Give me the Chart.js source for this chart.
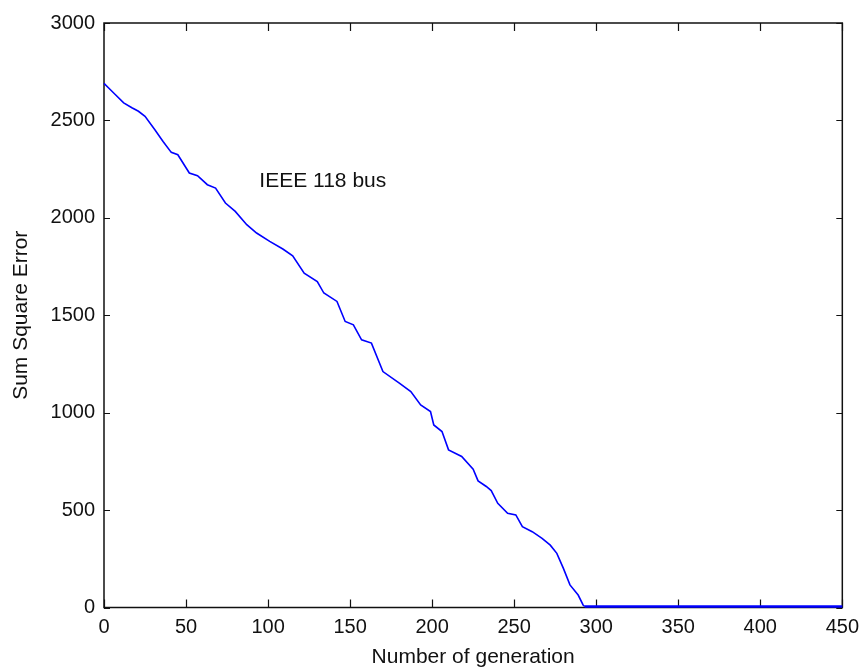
<!DOCTYPE html>
<html>
<head>
<meta charset="utf-8">
<script src="https://cdn.jsdelivr.net/npm/chart.js@4.4.1/dist/chart.umd.min.js"></script>
<style>
  html, body { margin: 0; padding: 0; background: #fff; }
  #wrap { width: 867px; height: 670px; position: relative; }
</style>
</head>
<body>
<div id="wrap"><canvas id="sse-chart"></canvas></div>
<script>
/* sum square error vs generation, IEEE 118 bus */
const generations = [0, 3, 7, 12, 17, 21, 25, 31, 36, 41, 45, 52, 57, 63, 68, 74, 80, 87, 93, 101,
  109, 115, 122, 130, 134, 142, 147, 152, 157, 163, 170, 180, 187, 193, 199, 201, 206, 210, 218, 225,
  228, 233, 236, 240, 246, 251, 255, 261, 267, 272, 276, 280, 284, 289, 292, 293, 450];
const sseValues = [2690, 2665, 2632, 2590, 2565, 2547, 2521, 2452, 2392, 2336, 2324, 2230, 2216, 2170, 2153, 2076, 2033, 1965, 1922, 1879,
  1840, 1805, 1716, 1673, 1614, 1571, 1468, 1451, 1374, 1357, 1211, 1152, 1108, 1040, 1006, 937, 903, 809, 775, 710,
  650, 621, 600, 535, 484, 475, 415, 389, 355, 320, 278, 201, 116, 64, 13, 5, 5];
const xTickStep = 50, xMax = 450;
const yTickStep = 500, yMax = 3000;
const noteText = 'IEEE 118 bus';
const notePos = { x: 94.7, y: 2187 };

const FONT = 'Liberation Sans, Arial, sans-serif';
const INK = '#111';

// box + inward ticks on all four sides, like the matlab axes
const boxPlugin = {
  id: 'box',
  beforeDatasetsDraw(chart) {
    const { ctx, chartArea: a, scales } = chart;
    ctx.save();
    ctx.strokeStyle = INK;
    ctx.lineWidth = 1.5;
    ctx.strokeRect(a.left, a.top, a.right - a.left, a.bottom - a.top);
    ctx.lineWidth = 1.2;
    ctx.beginPath();
    scales.x.ticks.forEach(t => {
      const px = Math.round(scales.x.getPixelForValue(t.value)) + 0.5;
      ctx.moveTo(px, a.bottom); ctx.lineTo(px, a.bottom - 8);
      ctx.moveTo(px, a.top); ctx.lineTo(px, a.top + 8);
    });
    scales.y.ticks.forEach(t => {
      const py = Math.round(scales.y.getPixelForValue(t.value)) + 0.5;
      ctx.moveTo(a.left, py); ctx.lineTo(a.left + 6, py);
      ctx.moveTo(a.right, py); ctx.lineTo(a.right - 6, py);
    });
    ctx.stroke();
    // annotation
    ctx.fillStyle = INK;
    ctx.font = '21px ' + FONT;
    ctx.textAlign = 'left';
    ctx.textBaseline = 'middle';
    ctx.fillText(noteText, scales.x.getPixelForValue(notePos.x), scales.y.getPixelForValue(notePos.y));
    ctx.restore();
  }
};

const points = generations.map((g, i) => ({ x: g, y: sseValues[i] }));

new Chart(document.getElementById('sse-chart'), {
  type: 'line',
  data: {
    datasets: [{
      data: points,
      borderColor: '#0000ff',
      borderWidth: 1.6,
      pointRadius: 0,
      tension: 0,
      fill: false,
      clip: false,
      // flat tail sits on the axis and reads heavier in the original
      segment: { borderWidth: c => (c.p0.parsed.y <= 5 && c.p1.parsed.y <= 5 ? 2.6 : 1.6) }
    }]
  },
  options: {
    responsive: true,
    maintainAspectRatio: false,
    animation: false,
    layout: { autoPadding: false, padding: { left: 0, right: 12, top: 23, bottom: 0 } },
    plugins: { legend: { display: false }, tooltip: { enabled: false } },
    scales: {
      x: {
        type: 'linear',
        min: 0,
        max: xMax,
        grid: { display: false, drawTicks: false },
        border: { display: false },
        ticks: { stepSize: xTickStep, color: INK, font: { family: FONT, size: 20 }, padding: 8, maxRotation: 0, callback: v => v },
        title: { display: true, text: 'Number of generation', color: INK, font: { family: FONT, size: 21 }, padding: { top: 1, bottom: 0 } },
        afterFit: s => { s.height = 62.5; }
      },
      y: {
        min: 0,
        max: yMax,
        grid: { display: false, drawTicks: false },
        border: { display: false },
        ticks: { stepSize: yTickStep, color: INK, font: { family: FONT, size: 20 }, padding: 9, callback: v => v },
        title: { display: true, text: 'Sum Square Error', color: INK, font: { family: FONT, size: 21 }, padding: { top: 9, bottom: 6 } },
        afterFit: s => { s.width = 104; }
      }
    }
  },
  plugins: [boxPlugin]
});
</script>
</body>
</html>
